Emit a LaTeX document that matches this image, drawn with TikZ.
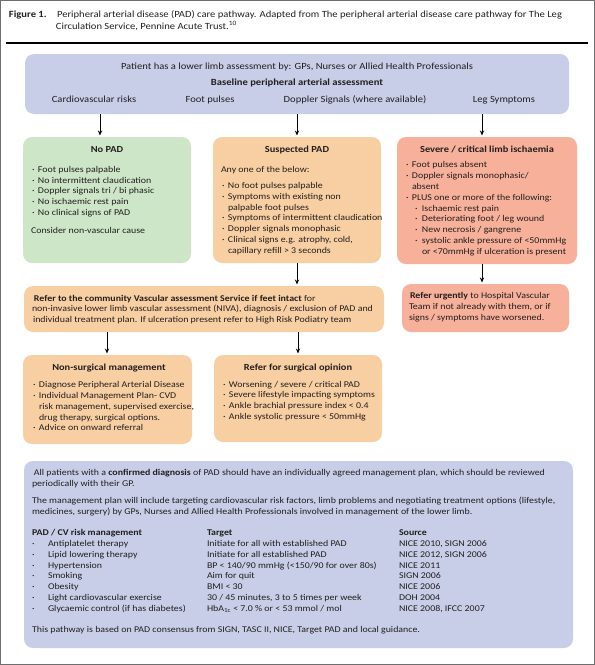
\documentclass[tikz,border=0pt]{standalone}
\usepackage{fontspec}
\setmainfont{Carlito}[FakeStretch=1.12]
\usetikzlibrary{arrows.meta}
\definecolor{bluebox}{RGB}{200,206,232}
\definecolor{greenbox}{RGB}{206,230,200}
\definecolor{peach}{RGB}{248,207,162}
\definecolor{salmon}{RGB}{247,176,154}
\definecolor{ink}{RGB}{35,31,32}
\definecolor{framegray}{RGB}{110,110,110}
\newlength\calw
\newcommand\calib[3]{\settowidth{\calw}{\rmfamily\mdseries\upshape\fontsize{10pt}{12pt}\selectfont #3}\pgfmathparse{10*#2/\calw}\xdef#1{\pgfmathresult}}
\AtBeginDocument{%
\calib\szTop{352}{Patient has a lower limb assessment by: GPs, Nurses or Allied Health Professionals}%
\calib\szBox{341}{non-invasive lower limb vascular assessment (NIVA), diagnosis / exclusion of PAD and}%
\calib\szTtl{358}{non-invasive lower limb vascular assessment (NIVA), diagnosis / exclusion of PAD and}%
\calib\szBot{511}{All patients with a \textbf{confirmed diagnosis} of PAD should have an individually agreed management plan, which should be reviewed}%
\calib\szCap{505}{Peripheral arterial disease (PAD) care pathway. Adapted from The peripheral arterial disease care pathway for The Leg}%
}
\newcommand\fBox{\fontsize{\szBox pt}{10pt}\selectfont}
\newcommand\fTtl{\fontsize{\szTtl pt}{10pt}\selectfont}
\newcommand\fTop{\fontsize{\szTop pt}{10pt}\selectfont}
\newcommand\fBot{\fontsize{\szBot pt}{10pt}\selectfont}
\newcommand\fCap{\fontsize{\szCap pt}{10pt}\selectfont}
\newcommand\curfont{\fBox}
\newcommand\PL[4]{\node[txt,anchor=base west] (#1) at (#2,#3) {#4};}
\newcommand\PC[4]{\node[txt,anchor=base] (#1) at (#2,#3) {#4};}
\newcommand\PT[4]{\node[txt,anchor=base,font=\fTtl\bfseries] (#1) at (#2,#3) {#4};}
\newcommand\Bu{\makebox[6pt][l]{·}}
\newcommand\Bs{\makebox[7pt][l]{·}}
\newcommand\Bh{\hspace*{6pt}}
\begin{document}
\begin{tikzpicture}[x=1pt,y=-1pt,
  txt/.style={inner sep=0pt,outer sep=0pt,text=ink,font=\curfont},
  box/.style={rounded corners=9pt,inner sep=0pt,outer sep=0pt,anchor=north west},
  arr/.style={line width=0.9pt,draw=black,-{Stealth[length=5pt,width=4.2pt]},shorten >=1.5pt}]
\useasboundingbox (0,0) rectangle (595,665);
\draw[framegray,line width=1pt] (0.5,0.5) rectangle (594.5,664.5);
% caption
\begin{scope}
\let\curfont\fCap
\PL{fig}{9}{17}{\bfseries Figure 1.}
\PL{cap1}{57}{17}{Peripheral arterial disease (PAD) care pathway. Adapted from The peripheral arterial disease care pathway for The Leg}
\PL{cap2}{56}{29}{Circulation Service, Pennine Acute Trust.\textsuperscript{10}}
\end{scope}
\coordinate (rl) at (6,43);
\coordinate (rr) at (588,43);
\draw[line width=1.3pt] (rl) -- (rr);
% top box
\node[box,fill=bluebox,minimum width=544pt,minimum height=60pt] (top) at (25,54) {};
\begin{scope}
\let\curfont\fTop
\PC{p1}{297}{69}{Patient has a lower limb assessment by: GPs, Nurses or Allied Health Professionals}
\PC{p2}{297}{85}{\bfseries Baseline peripheral arterial assessment}
\PC{p3}{94}{102}{Cardiovascular risks}
\PC{p4}{210}{102}{Foot pulses}
\PC{p5}{355}{102}{Doppler Signals (where available)}
\PC{p6}{504}{102}{Leg Symptoms}
\end{scope}
% row 2 boxes
\node[box,fill=greenbox,minimum width=168pt,minimum height=126pt] (nopad) at (23,137) {};
\node[box,fill=peach,minimum width=168pt,minimum height=126pt] (susp) at (213,137) {};
\node[box,fill=salmon,minimum width=180pt,minimum height=127pt] (sev) at (397,137) {};
\PT{n0}{107}{152}{No PAD}
\PL{n1}{32}{172}{\Bu Foot pulses palpable}
\PL{n2}{32}{183}{\Bu No intermittent claudication}
\PL{n3}{32}{193}{\Bu Doppler signals tri / bi phasic}
\PL{n4}{32}{204}{\Bu No ischaemic rest pain}
\PL{n5}{32}{215}{\Bu No clinical signs of PAD}
\PL{n6}{31}{233}{Consider non-vascular cause}
\PT{s0}{297}{152}{Suspected PAD}
\PL{s1}{221}{172}{Any one of the below:}
\PL{s2}{222}{188}{\Bu No foot pulses palpable}
\PL{s3}{222}{199}{\Bu Symptoms with existing non}
\PL{s4}{222}{210}{\Bh palpable foot pulses}
\PL{s5}{222}{220}{\Bu Symptoms of intermittent claudication}
\PL{s6}{222}{231}{\Bu Doppler signals monophasic}
\PL{s7}{222}{242}{\Bu Clinical signs e.g. atrophy, cold,}
\PL{s8}{222}{253}{\Bh capillary refill > 3 seconds}
\PT{v0}{487}{152}{Severe / critical limb ischaemia}
\PL{v1}{406}{167}{\Bu Foot pulses absent}
\PL{v2}{406}{178}{\Bu Doppler signals monophasic/}
\PL{v3}{406}{189}{\Bh absent}
\PL{v4}{406}{200}{\Bu PLUS one or more of the following:}
\PL{v5}{415}{211}{\Bs Ischaemic rest pain}
\PL{v6}{415}{221}{\Bs Deteriorating foot / leg wound}
\PL{v7}{415}{232}{\Bs New necrosis / gangrene}
\PL{v8}{415}{243}{\Bs systolic ankle pressure of <50mmHg}
\PL{v9}{415}{254}{\hspace*{7pt}or <70mmHg if ulceration is present}
% arrows row 1
\coordinate (x1) at (100,0);
\coordinate (x2) at (297,0);
\coordinate (x3) at (482,0);
\draw[arr] (top.south -| x1) -- (nopad.north -| x1);
\draw[arr] (top.south -| x2) -- (susp.north -| x2);
\draw[arr] (top.south -| x3) -- (sev.north -| x3);
% row 3
\node[box,fill=peach,minimum width=360pt,minimum height=46pt] (comm) at (24,286) {};
\node[box,fill=salmon,minimum width=167pt,minimum height=48pt] (urg) at (402,284) {};
\PL{c1}{34}{301}{\textbf{Refer to the community Vascular assessment Service if feet intact} for}
\PL{c2}{32}{311}{non-invasive lower limb vascular assessment (NIVA), diagnosis / exclusion of PAD and}
\PL{c3}{33}{322}{individual treatment plan. If ulceration present refer to High Risk Podiatry team}
\PL{u1}{410}{298}{\textbf{Refer urgently} to Hospital Vascular}
\PL{u2}{409}{309}{Team if not already with them, or if}
\PL{u3}{409}{320}{signs / symptoms have worsened.}
\draw[arr] (susp.south -| x2) -- (comm.north -| x2);
\draw[arr] (sev.south -| x3) -- (urg.north -| x3);
% row 4
\node[box,fill=peach,minimum width=169pt,minimum height=89pt] (nons) at (23,355) {};
\node[box,fill=peach,minimum width=168pt,minimum height=87pt] (surg) at (214,355) {};
\coordinate (x4) at (107,0);
\coordinate (x5) at (298,0);
\draw[arr] (comm.south -| x4) -- (nons.north -| x4);
\draw[arr] (comm.south -| x5) -- (surg.north -| x5);
\PT{m0}{109}{370}{Non-surgical management}
\PL{m1}{33}{387}{\Bu Diagnose Peripheral Arterial Disease}
\PL{m2}{33}{398}{\Bu Individual Management Plan- CVD}
\PL{m3}{33}{409}{\Bh risk management, supervised exercise,}
\PL{m4}{33}{420}{\Bh drug therapy, surgical options.}
\PL{m5}{33}{430}{\Bu Advice on onward referral}
\PT{g0}{298}{370}{Refer for surgical opinion}
\PL{g1}{223}{387}{\Bu Worsening / severe / critical PAD}
\PL{g2}{223}{397}{\Bu Severe lifestyle impacting symptoms}
\PL{g3}{223}{408}{\Bu Ankle brachial pressure index < 0.4}
\PL{g4}{223}{419}{\Bu Ankle systolic pressure < 50mmHg}
% bottom box
\node[box,fill=bluebox,minimum width=549pt,minimum height=187pt] (bot) at (24,461) {};
\begin{scope}
\let\curfont\fBot
\PL{b1}{34}{475}{All patients with a \textbf{confirmed diagnosis} of PAD should have an individually agreed management plan, which should be reviewed}
\PL{b2}{32}{486}{periodically with their GP.}
\PL{b3}{32}{503}{The management plan will include targeting cardiovascular risk factors, limb problems and negotiating treatment options (lifestyle,}
\PL{b4}{32}{514}{medicines, surgery) by GPs, Nurses and Allied Health Professionals involved in management of the lower limb.}
\PL{h1}{32}{535}{\bfseries PAD / CV risk management}
\PL{h2}{207}{535}{\bfseries Target}
\PL{h3}{399}{535}{\bfseries Source}
\PL{d1}{32}{546}{·}\PL{r1}{48}{546}{Antiplatelet therapy}\PL{t1}{207}{546}{Initiate for all with established PAD}\PL{o1}{399}{546}{NICE 2010, SIGN 2006}
\PL{d2}{32}{557}{·}\PL{r2}{48}{557}{Lipid lowering therapy}\PL{t2}{207}{557}{Initiate for all established PAD}\PL{o2}{399}{557}{NICE 2012, SIGN 2006}
\PL{d3}{32}{568}{·}\PL{r3}{48}{568}{Hypertension}\PL{t3}{207}{568}{BP < 140/90 mmHg (<150/90 for over 80s)}\PL{o3}{399}{568}{NICE 2011}
\PL{d4}{32}{578}{·}\PL{r4}{48}{578}{Smoking}\PL{t4}{207}{578}{Aim for quit}\PL{o4}{399}{578}{SIGN 2006}
\PL{d5}{32}{589}{·}\PL{r5}{48}{589}{Obesity}\PL{t5}{207}{589}{BMI < 30}\PL{o5}{399}{589}{NICE 2006}
\PL{d6}{32}{600}{·}\PL{r6}{48}{600}{Light cardiovascular exercise}\PL{t6}{207}{600}{30 / 45 minutes, 3 to 5 times per week}\PL{o6}{399}{600}{DOH 2004}
\PL{d7}{32}{611}{·}\PL{r7}{48}{611}{Glycaemic control (if has diabetes)}\PL{t7}{207}{611}{HbA\textsubscript{1c} < 7.0 \% or < 53 mmol / mol}\PL{o7}{399}{611}{NICE 2008, IFCC 2007}
\PL{f1}{32}{632}{This pathway is based on PAD consensus from SIGN, TASC II, NICE, Target PAD and local guidance.}
\end{scope}
\end{tikzpicture}
\end{document}
